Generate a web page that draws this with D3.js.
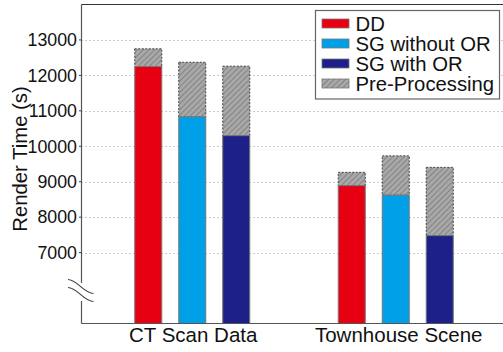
<!DOCTYPE html>
<html><head><meta charset="utf-8">
<script src="https://cdn.jsdelivr.net/npm/d3@7"></script>
<style>body{margin:0;background:#fff}svg{display:block}text{font-family:"Liberation Sans",Arial,sans-serif;fill:#111}</style>
</head><body><div id="c"></div>
<script>
const categories = ["CT Scan Data", "Townhouse Scene"];
const series = ["DD", "SG without OR", "SG with OR"];
const renderTime = [[12250, 10830, 10300], [8890, 8620, 7480]];
const totalTime = [[12750, 12370, 12260], [9265, 9730, 9405]];
const yTicks = [7000, 8000, 9000, 10000, 11000, 12000, 13000];
const legendLabels = ["DD", "SG without OR", "SG with OR", "Pre-Processing"];
const colors = ["#e60012", "#00a0e9", "#1d2088"];

const W = 503, H = 352;
const svg = d3.select("#c").append("svg").attr("width", W).attr("height", H);
const defs = svg.append("defs");
const pat = defs.append("pattern").attr("id", "hatch").attr("patternUnits", "userSpaceOnUse")
  .attr("width", 4).attr("height", 4).attr("patternTransform", "rotate(45)");
pat.append("rect").attr("width", 4).attr("height", 4).attr("fill", "#a8a8a8");
pat.append("line").attr("x1", 0).attr("y1", 0).attr("x2", 0).attr("y2", 4).attr("stroke", "#7a7a7a").attr("stroke-width", 1.6);

const pLeft = 81.5, pTop = 4.5, pBottom = 323.5, pRight = 503;
const y = d3.scaleLinear().domain([5000, 14000]).range([pBottom, pTop]);
const x0 = d3.scaleBand().domain(categories).range([90.5, 497.5]).padding(0);
const x1 = d3.scaleBand().domain(series).range([-57.5, 57.5]).paddingInner(0.386).paddingOuter(0);

// grid
svg.append("g").selectAll("line").data(yTicks).join("line")
  .attr("x1", pLeft).attr("x2", pRight).attr("y1", d => Math.round(y(d)) + 0.5).attr("y2", d => Math.round(y(d)) + 0.5)
  .attr("stroke", "#999").attr("stroke-width", 1).attr("stroke-dasharray", "1,3");

// bars
const g = svg.append("g");
categories.forEach((c, ci) => {
  series.forEach((s, si) => {
    const bx = x0(c) + x0.bandwidth() / 2 + x1(s);
    const bw = x1.bandwidth();
    g.append("rect").attr("x", bx).attr("width", bw)
      .attr("y", y(totalTime[ci][si])).attr("height", y(renderTime[ci][si]) - y(totalTime[ci][si]))
      .attr("fill", "url(#hatch)").attr("stroke", "#444").attr("stroke-width", 1).attr("stroke-dasharray", "2,1.5");
    g.append("rect").attr("x", bx).attr("width", bw)
      .attr("y", y(renderTime[ci][si])).attr("height", pBottom - y(renderTime[ci][si]))
      .attr("fill", colors[si]).attr("stroke", "#777").attr("stroke-width", 1);
  });
});

// axes frame
svg.append("line").attr("x1", pLeft).attr("x2", pRight).attr("y1", pTop).attr("y2", pTop).attr("stroke", "#333").attr("stroke-width", 1.2);
svg.append("line").attr("x1", pLeft).attr("x2", pRight).attr("y1", pBottom).attr("y2", pBottom).attr("stroke", "#555").attr("stroke-width", 1.2);
svg.append("line").attr("x1", pLeft).attr("x2", pLeft).attr("y1", pTop).attr("y2", 283).attr("stroke", "#555").attr("stroke-width", 1.2);
svg.append("line").attr("x1", pLeft).attr("x2", pLeft).attr("y1", 301).attr("y2", pBottom).attr("stroke", "#555").attr("stroke-width", 1.2);

// break symbol
const brk = svg.append("g").attr("fill", "none").attr("stroke", "#444").attr("stroke-width", 1.2);
brk.append("path").attr("d", "M68,279.5 C77,279.5 84,293.5 93.5,293.5");
brk.append("path").attr("d", "M68,287.5 C77,287.5 84,301.5 93.5,301.5");

// y ticks
const yt = svg.append("g");
yt.selectAll("line").data(yTicks).join("line")
  .attr("x1", pLeft - 2.5).attr("x2", pLeft).attr("y1", d => y(d)).attr("y2", d => y(d)).attr("stroke", "#444");
yt.selectAll("text").data(yTicks).join("text")
  .attr("x", 77).attr("y", d => y(d)).attr("dy", "0.35em").attr("text-anchor", "end")
  .attr("font-size", 17.8).text(d => d);

svg.append("text").attr("transform", `translate(27,159) rotate(-90)`).attr("text-anchor", "middle")
  .attr("font-size", 20.3).text("Render Time (s)");

// x labels
svg.append("g").selectAll("text").data(categories).join("text")
  .attr("x", d => x0(d) + x0.bandwidth() / 2 + (d === categories[1] ? 3 : 1)).attr("y", 342)
  .attr("text-anchor", "middle").attr("font-size", 20.5).text(d => d);

// legend
const lg = svg.append("g");
lg.append("rect").attr("x", 315.5).attr("y", 10.5).attr("width", 184).attr("height", 88.5)
  .attr("fill", "#fff").attr("stroke", "#666").attr("stroke-width", 1.2);
legendLabels.forEach((l, i) => {
  const cy = 23.5 + i * 20;
  lg.append("rect").attr("x", 322).attr("y", cy - 4.5).attr("width", 27).attr("height", 9)
    .attr("fill", i < 3 ? colors[i] : "url(#hatch)").attr("stroke", "#777").attr("stroke-width", 0.8);
  lg.append("text").attr("x", 355.5).attr("y", cy).attr("dy", "0.36em").attr("font-size", 20.3).text(l);
});
</script></body></html>
